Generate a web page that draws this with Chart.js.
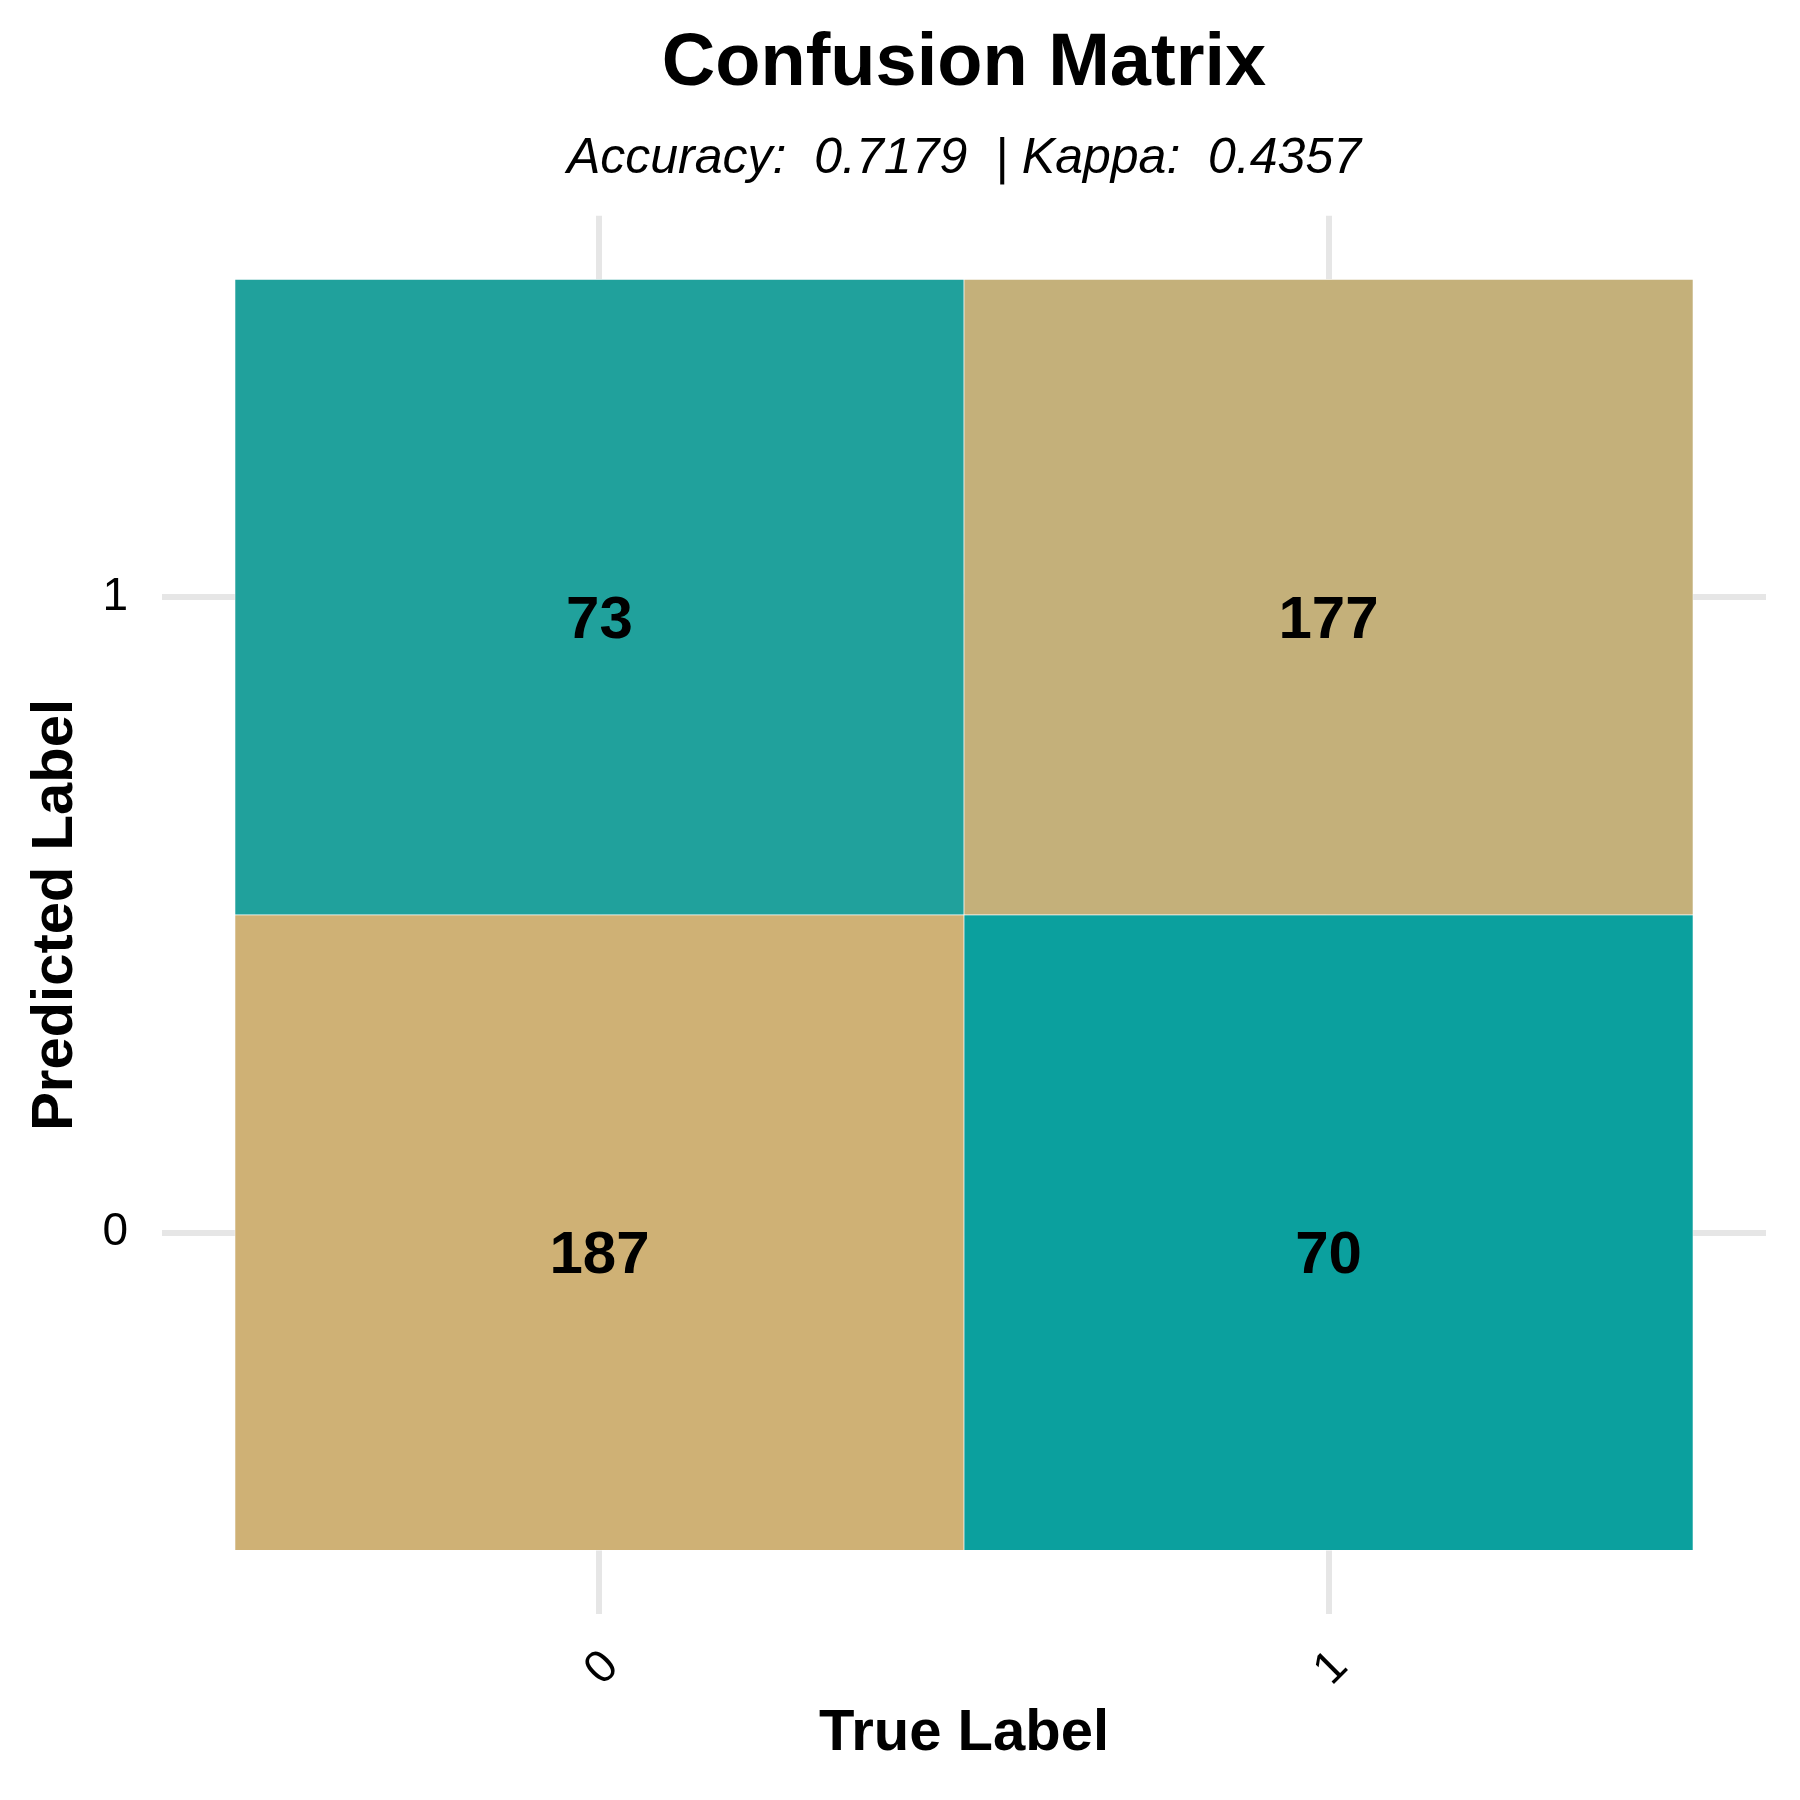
<!DOCTYPE html>
<html>
<head>
<meta charset="utf-8">
<script src="https://cdn.jsdelivr.net/npm/chart.js@4"></script>
<style>
  html, body { margin: 0; padding: 0; background: #ffffff; }
  #wrap { width: 1800px; height: 1800px; }
</style>
</head>
<body>
<div id="wrap"><canvas id="c" width="1800" height="1800"></canvas></div>
<script>
// ---- data ----
const trueLabels = ['0', '1'];
const predLabels = ['0', '1'];
const cellTrue  = [0, 0, 1, 1];
const cellPred  = [0, 1, 0, 1];
const cellCounts = [187, 73, 70, 177];
const cellColors = ['#cfb175', '#20a19c', '#0ba09e', '#c4b07a'];
const titleText = 'Confusion Matrix';
const subtitleText = 'Accuracy:  0.7179  | Kappa:  0.4357';

Chart.defaults.font.family = '"Liberation Sans", Arial, Helvetica, sans-serif';
Chart.defaults.color = '#000000';

const cellTextPlugin = {
  id: 'cellText',
  afterDatasetsDraw(chart) {
    const ctx = chart.ctx;
    const xs = chart.scales.x, ys = chart.scales.y;
    ctx.save();
    ctx.font = 'bold 60px "Liberation Sans", Arial, sans-serif';
    ctx.fillStyle = '#000000';
    ctx.textAlign = 'center';
    ctx.textBaseline = 'middle';
    for (let i = 0; i < cellCounts.length; i++) {
      const px = xs.getPixelForValue(cellTrue[i]);
      const py = ys.getPixelForValue(cellPred[i]) + 24;
      ctx.fillText(String(cellCounts[i]), px, py);
    }
    ctx.restore();
  }
};

const gridStyle = { color: '#e6e6e6', lineWidth: 6, drawTicks: false, offset: false };

new Chart(document.getElementById('c'), {
  type: 'bar',
  data: {
    datasets: [{
      data: cellCounts.map((v, i) => ({ x: cellTrue[i], y: [cellPred[i] - 0.5, cellPred[i] + 0.5], v })),
      backgroundColor: cellColors,
      borderColor: 'rgba(255,255,255,0.9)',
      borderWidth: 0.7,
      borderSkipped: false,
      barPercentage: 1,
      categoryPercentage: 1
    }]
  },
  options: {
    responsive: false,
    animation: false,
    layout: { padding: { top: 0, right: 34, bottom: 0, left: 0 } },
    plugins: {
      legend: { display: false },
      tooltip: { enabled: false },
      title: {
        display: true, text: titleText, fullSize: false,
        font: { size: 74, weight: 'bold' }, color: '#000000',
        padding: { top: 20, bottom: 0 }
      },
      subtitle: {
        display: true, text: subtitleText, fullSize: false,
        font: { size: 50, style: 'italic', weight: 'normal' }, color: '#000000',
        padding: { top: 20, bottom: 27 }
      }
    },
    scales: {
      x: {
        type: 'linear', min: -0.6, max: 1.6, offset: false,
        afterBuildTicks: s => { s.ticks = trueLabels.map((_, i) => ({ value: i })); },
        afterFit: s => { s.height = 186; },
        ticks: {
          callback: v => trueLabels[v],
          minRotation: 45, maxRotation: 45, autoSkip: false,
          font: { size: 46 }, color: '#000000', padding: 26, labelOffset: 12
        },
        grid: gridStyle,
        border: { display: false },
        title: {
          display: true, text: 'True Label', color: '#000000',
          font: { size: 58, weight: 'bold' }, padding: { top: 0, bottom: 31 }
        }
      },
      y: {
        type: 'linear', min: -0.6, max: 1.6, offset: false, beginAtZero: false,
        afterBuildTicks: s => { s.ticks = predLabels.map((_, i) => ({ value: i })); },
        afterFit: s => { s.width = 162; },
        ticks: {
          callback: v => predLabels[v], autoSkip: false,
          font: { size: 46 }, color: '#000000', padding: 34
        },
        grid: gridStyle,
        border: { display: false },
        title: {
          display: true, text: 'Predicted Label', color: '#000000',
          font: { size: 58, weight: 'bold' }, padding: { top: 21, bottom: 0 }
        }
      }
    }
  },
  plugins: [cellTextPlugin]
});
</script>
</body>
</html>
